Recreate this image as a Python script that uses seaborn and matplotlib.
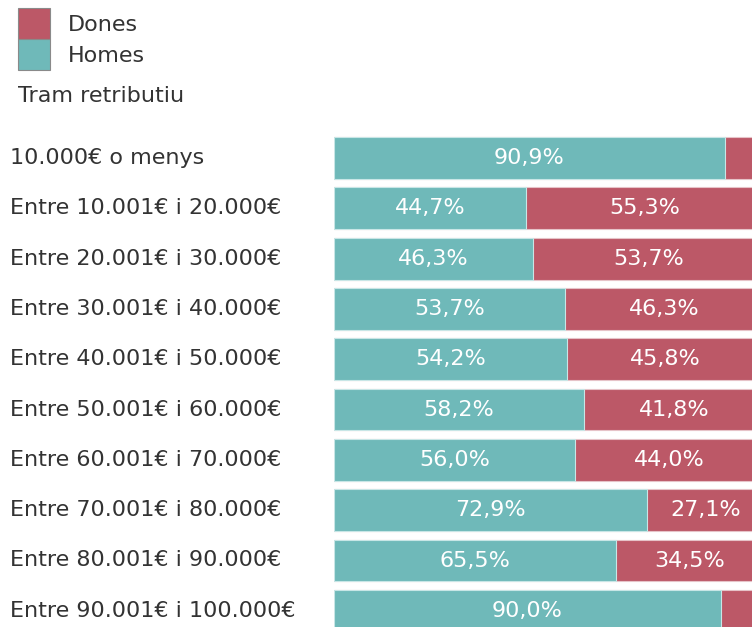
import matplotlib
matplotlib.use("Agg")
import matplotlib.pyplot as plt
import seaborn as sns
import pandas as pd
from matplotlib.patches import Patch

categories = ["10.000€ o menys", "Entre 10.001€ i 20.000€", "Entre 20.001€ i 30.000€",
              "Entre 30.001€ i 40.000€", "Entre 40.001€ i 50.000€", "Entre 50.001€ i 60.000€",
              "Entre 60.001€ i 70.000€", "Entre 70.001€ i 80.000€", "Entre 80.001€ i 90.000€",
              "Entre 90.001€ i 100.000€"]
homes = [90.9, 44.7, 46.3, 53.7, 54.2, 58.2, 56.0, 72.9, 65.5, 90.0]
dones = [9.1, 55.3, 53.7, 46.3, 45.8, 41.8, 44.0, 27.1, 34.5, 10.0]

C_H = "#6fb9b9"
C_D = "#bc5867"
TXT = "#333333"
FS = 16

df = pd.DataFrame({"cat": categories, "homes": homes, "dones": dones})
df["total"] = df["homes"] + df["dones"]

sns.set_theme(style="white")
plt.rcParams["font.family"] = ["DejaVu Sans"]

fig = plt.figure(figsize=(7.52, 6.27), dpi=100)
ax = fig.add_axes([334/752, 1 - 636/627, 430/752, (636 - 132.85)/627])

sns.barplot(data=df, x="total", y="cat", color=C_D, orient="h", ax=ax,
            width=0.83, edgecolor="#e6c3c8", linewidth=0.8, saturation=1)
sns.barplot(data=df, x="homes", y="cat", color=C_H, orient="h", ax=ax,
            width=0.83, edgecolor="#c8e6e6", linewidth=0.8, saturation=1)

ax.set_xlim(0, 100)
ax.set_ylim(9.5, -0.5)
ax.set_xlabel("")
ax.set_ylabel("")
ax.set_xticks([])
ax.set_yticks([])
for s in ax.spines.values():
    s.set_visible(False)

def fmt(v):
    return f"{v:.1f}".replace(".", ",") + "%"

for i, (h, d) in enumerate(zip(homes, dones)):
    if h >= 15:
        ax.text(h / 2, i, fmt(h), ha="center", va="center", color="white", fontsize=FS)
    if d >= 15:
        ax.text(h + d / 2, i, fmt(d), ha="center", va="center", color="white", fontsize=FS)

for i, c in enumerate(categories):
    y = 1 - (158 + i * 50.3) / 627
    fig.text(10/752, y, c, ha="left", va="center", color=TXT, fontsize=FS)

handles = [Patch(facecolor=C_D, edgecolor="#8a8a8a", linewidth=0.8),
           Patch(facecolor=C_H, edgecolor="#8a8a8a", linewidth=0.8)]
fig.legend(handles, ["Dones", "Homes"], loc="upper left", bbox_to_anchor=(18/752, 1 - 8/627),
           frameon=False, fontsize=FS, handlelength=1.44, handleheight=1.77,
           handletextpad=0.8, labelspacing=0.0, borderpad=0.0, borderaxespad=0.0,
           labelcolor=TXT)
fig.text(18/752, 1 - 96/627, "Tram retributiu", ha="left", va="center", color=TXT, fontsize=FS)

fig.savefig("out.png", dpi=100)
